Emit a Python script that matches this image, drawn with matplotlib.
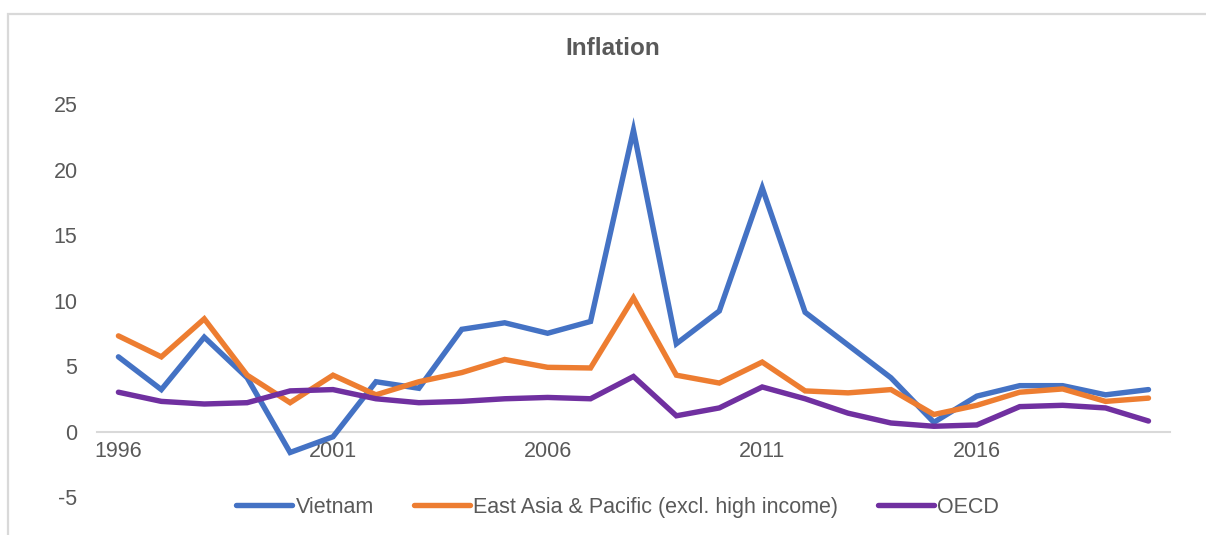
import numpy as np
import matplotlib.pyplot as plt
from matplotlib.patches import Rectangle

# Annual inflation (%), 1996-2020
years = np.arange(1996, 2021)
vietnam = [5.7, 3.2, 7.2, 4.1, -1.6, -0.4, 3.8, 3.3, 7.8, 8.3, 7.5, 8.4, 23.0,
           6.7, 9.2, 18.6, 9.1, 6.6, 4.1, 0.7, 2.7, 3.5, 3.5, 2.8, 3.2]
east_asia = [7.3, 5.7, 8.6, 4.3, 2.2, 4.3, 2.8, 3.8, 4.5, 5.5, 4.9, 4.85, 10.2,
             4.3, 3.7, 5.3, 3.1, 2.95, 3.2, 1.3, 2.0, 3.0, 3.25, 2.3, 2.55]
oecd = [3.0, 2.3, 2.1, 2.2, 3.1, 3.2, 2.5, 2.2, 2.3, 2.5, 2.6, 2.5, 4.2,
        1.2, 1.8, 3.4, 2.5, 1.4, 0.65, 0.4, 0.5, 1.9, 2.0, 1.8, 0.8]

series = [("Vietnam", vietnam, "#4472C4"),
          ("East Asia & Pacific (excl. high income)", east_asia, "#ED7D31"),
          ("OECD", oecd, "#7030A0")]

plt.rcParams['font.family'] = ['Liberation Sans', 'DejaVu Sans']
plt.rcParams['axes.unicode_minus'] = False
grey = "#595959"

fig = plt.figure(figsize=(12.06, 5.35), dpi=100)
ax = fig.add_axes([0.0804, 0.0710, 0.8897, 0.7346])

# light frame round the chart area
fig.patches.append(Rectangle((8 / 1206, -0.1), 1.2, 1 - 14 / 535 + 0.1,
                             transform=fig.transFigure, fill=False,
                             edgecolor="#d9d9d9", linewidth=1.6))

for name, vals, col in series:
    ax.plot(years, vals, color=col, linewidth=3.9, label=name,
            solid_capstyle='round', solid_joinstyle='miter')

ax.set_xlim(1995.5, 2020.5)
ax.set_ylim(-5, 25)
ax.set_yticks(np.arange(-5, 26, 5))
ax.set_xticks(np.arange(1996, 2021, 5))

for s in ['top', 'right', 'left']:
    ax.spines[s].set_visible(False)
ax.spines['bottom'].set_position(('data', 0))
ax.spines['bottom'].set_color("#d9d9d9")
ax.spines['bottom'].set_linewidth(1.5)
ax.spines['bottom'].set_zorder(0)

ax.tick_params(axis='both', length=0, labelsize=15.5, labelcolor=grey)
ax.tick_params(axis='x', pad=7)
ax.tick_params(axis='y', pad=14)

fig.text(0.508, 0.910, "Inflation", ha='center', va='center',
         fontsize=17.5, fontweight='bold', color=grey)

leg = fig.legend(loc='center', bbox_to_anchor=(0.512, 0.052), ncol=3,
                 frameon=False, fontsize=15.5, handlelength=2.6,
                 handletextpad=0.15, columnspacing=1.85)
for t in leg.get_texts():
    t.set_color(grey)

fig.savefig("out.png", dpi=100)
